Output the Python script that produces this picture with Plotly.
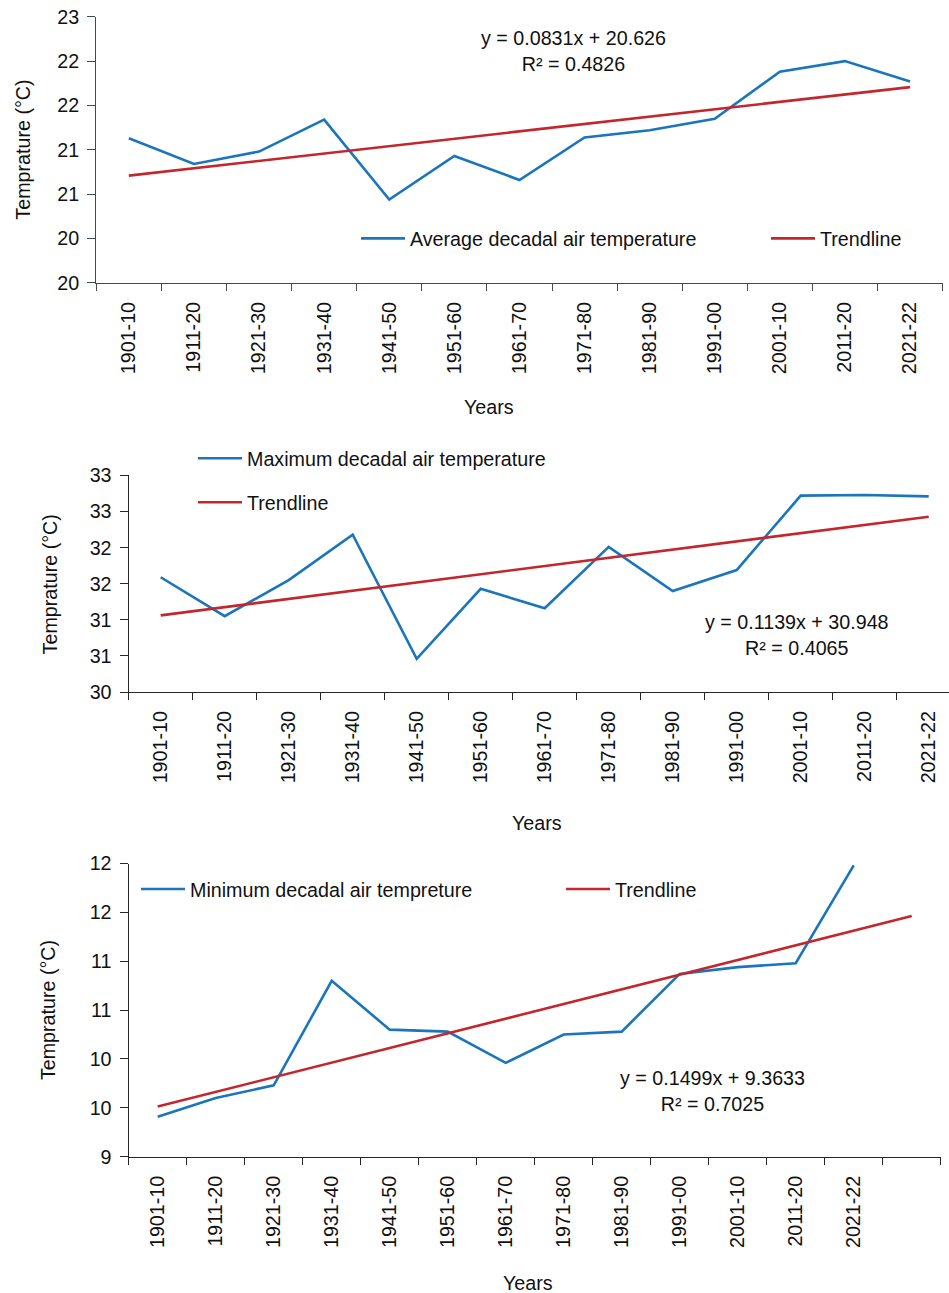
import plotly.graph_objects as go

W, H = 949, 1293
FONT = "Liberation Sans, Arial, sans-serif"
FS = 19.7
BLUE = "#1b75bc"
RED = "#c1272d"

# Decade categories
decades = ["1901-10", "1911-20", "1921-30", "1931-40", "1941-50", "1951-60", "1961-70",
           "1971-80", "1981-90", "1991-00", "2001-10", "2011-20", "2021-22"]

# Decadal air temperatures (°C)
avg_temp = [21.13, 20.84, 20.98, 21.34, 20.44, 20.93, 20.66, 21.14, 21.22, 21.35, 21.88, 22.00, 21.77]
max_temp = [31.59, 31.05, 31.55, 32.18, 30.46, 31.43, 31.16, 32.01, 31.40, 31.69, 32.72, 32.73, 32.71]
min_temp = [9.41, 9.60, 9.73, 10.80, 10.30, 10.28, 9.96, 10.25, 10.28, 10.87, 10.94, 10.98, 11.98]

# Linear trend equations: slope, intercept, R²
avg_fit = (0.0831, 20.626, 0.4826)
max_fit = (0.1139, 30.948, 0.4065)
min_fit = (0.1499, 9.3633, 0.7025)

# Y tick values and their (rounded) labels
avg_yticks = [19.5, 20.0, 20.5, 21.0, 21.5, 22.0, 22.5]
avg_ylabels = ["20", "20", "21", "21", "22", "22", "23"]
max_yticks = [30.0, 30.5, 31.0, 31.5, 32.0, 32.5, 33.0]
max_ylabels = ["30", "31", "31", "32", "32", "33", "33"]
min_yticks = [9.0, 9.5, 10.0, 10.5, 11.0, 11.5, 12.0]
min_ylabels = ["9", "10", "10", "11", "11", "12", "12"]

LEG_ITEM_W = 44


def fx(px):
    # horizontal pixel position -> paper fraction
    return px / W


def fy(py):
    # vertical pixel position (from top) -> paper fraction, with page offset/scale
    return 1 - ((py - 10.26) / 0.9836) / H


panels = [
    dict(vals=avg_temp, fit=avg_fit, yt=avg_yticks, yl=avg_ylabels,
         name="Average decadal air temperature", x0=96.3, x1=942.6, top=16, bot=282.3,
         xr=[0.5, 13.5], ntrend=13, axcol="#3d4a5a",
         eq=(573, 50), ytitle=(23, 149), xtitle=(489, 407),
         leg=[(410, 238), (820, 238)]),
    dict(vals=max_temp, fit=max_fit, yt=max_yticks, yl=max_ylabels,
         name="Maximum decadal air temperature", x0=128.7, x1=949, top=475, bot=691.7,
         xr=[0.5, 0.5 + (949 - 128.7) / 64.0], ntrend=13, axcol="#262626",
         eq=(797, 635), ytitle=(50, 584), xtitle=(537, 823),
         leg=[(247, 458), (247, 502)]),
    dict(vals=min_temp, fit=min_fit, yt=min_yticks, yl=min_ylabels,
         name="Minimum decadal air tempreture", x0=128.7, x1=940.7, top=863.3, bot=1156.7,
         xr=[0.5, 14.5], ntrend=14, axcol="#262626",
         eq=(712, 1091), ytitle=(48, 1010), xtitle=(528, 1283),
         leg=[(190, 889), (615, 889)]),
]

fig = go.Figure()
annotations = []
leg_idx = 1

for i, p in enumerate(panels, start=1):
    xa = "x" if i == 1 else f"x{i}"
    ya = "y" if i == 1 else f"y{i}"
    xpos = list(range(1, len(p["vals"]) + 1))
    slope, icpt, r2 = p["fit"]
    tx = list(range(1, p["ntrend"] + 1))
    ty = [slope * t + icpt for t in tx]

    leg_a = "legend" if leg_idx == 1 else f"legend{leg_idx}"
    leg_b = f"legend{leg_idx + 1}"
    fig.add_trace(go.Scatter(x=xpos, y=p["vals"], mode="lines", name=p["name"],
                             line=dict(color=BLUE, width=2.6), xaxis=xa, yaxis=ya,
                             legend=leg_a))
    fig.add_trace(go.Scatter(x=tx, y=ty, mode="lines", name="Trendline",
                             line=dict(color=RED, width=2.6), xaxis=xa, yaxis=ya,
                             legend=leg_b))
    for k, (lx, ly) in enumerate(p["leg"]):
        key = "legend" if (leg_idx + k) == 1 else f"legend{leg_idx + k}"
        fig.update_layout(**{key: dict(x=fx(lx - LEG_ITEM_W - 10), y=fy(ly),
                                       xanchor="left", yanchor="middle",
                                       itemwidth=LEG_ITEM_W,
                                       bgcolor="rgba(0,0,0,0)", borderwidth=0,
                                       font=dict(family=FONT, size=FS, color="#111"))})
    leg_idx += 2

    xkey = "xaxis" if i == 1 else f"xaxis{i}"
    ykey = "yaxis" if i == 1 else f"yaxis{i}"
    fig.update_layout(**{
        xkey: dict(domain=[fx(p["x0"]), fx(p["x1"])], anchor=ya, range=p["xr"],
                   tickmode="array", tickvals=list(range(1, len(decades) + 1)), ticktext=decades,
                   tickangle=-90, ticks="", showgrid=False, zeroline=False,
                   showline=True, linecolor=p["axcol"], linewidth=1.4,
                   ticklabelstandoff=10,
                   tickfont=dict(family=FONT, size=FS, color="#111"),
                   minor=dict(ticks="outside", tick0=0.5, dtick=1, ticklen=7,
                              tickcolor=p["axcol"], tickwidth=1.4, showgrid=False)),
        ykey: dict(domain=[fy(p["bot"]), fy(p["top"])], anchor=xa,
                   range=[p["yt"][0], p["yt"][-1]],
                   tickmode="array", tickvals=p["yt"], ticktext=p["yl"],
                   ticks="outside", ticklen=8, tickcolor=p["axcol"], tickwidth=1.4,
                   showgrid=False, zeroline=False, showline=True,
                   linecolor=p["axcol"], linewidth=1.4, ticklabelstandoff=4,
                   tickfont=dict(family=FONT, size=FS, color="#111")),
    })

    annotations.append(dict(x=fx(p["eq"][0]), y=fy(p["eq"][1]), xref="paper", yref="paper",
                            text=f"y = {slope}x + {icpt}<br>R² = {r2}", showarrow=False,
                            xanchor="center", yanchor="middle", align="center",
                            font=dict(family=FONT, size=FS, color="#111")))
    annotations.append(dict(x=fx(p["ytitle"][0]), y=fy(p["ytitle"][1]), xref="paper", yref="paper",
                            text="Temprature (°C)", textangle=-90, showarrow=False,
                            xanchor="center", yanchor="middle",
                            font=dict(family=FONT, size=FS, color="#111")))
    annotations.append(dict(x=fx(p["xtitle"][0]), y=fy(p["xtitle"][1]), xref="paper", yref="paper",
                            text="Years", showarrow=False, xanchor="center", yanchor="middle",
                            font=dict(family=FONT, size=FS, color="#111")))

fig.update_layout(width=W, height=H, margin=dict(l=0, r=0, t=0, b=0),
                  paper_bgcolor="white", plot_bgcolor="white",
                  annotations=annotations, showlegend=True)

fig.write_html("out.html")
